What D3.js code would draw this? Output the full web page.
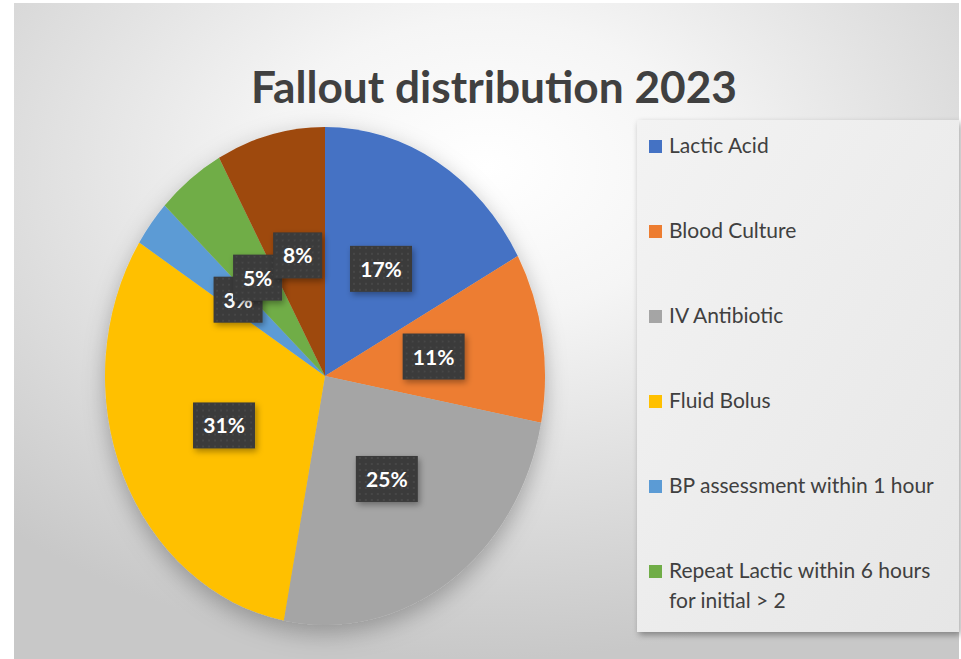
<!DOCTYPE html>
<html>
<head>
<meta charset="utf-8">
<script src="https://cdn.jsdelivr.net/npm/d3@7"></script>
<style>
  body { margin: 0; background: #fff; }
  svg { display: block; }
</style>
</head>
<body>
<div id="chart"></div>
<script>
// chart data
const categories = ["Lactic Acid", "Blood Culture", "IV Antibiotic", "Fluid Bolus",
                    "BP assessment within 1 hour", "Repeat Lactic within 6 hours\nfor initial > 2", "Other"];
const values = [17, 11, 25, 31, 3, 5, 8];
const colors = ["#4472c4", "#ed7d31", "#a5a5a5", "#ffc000", "#5b9bd5", "#70ad47", "#9e480e"];
const title = "Fallout distribution 2023";

const width = 961, height = 659;
const cx = 325, cy = 376, ry = 249, rx = 220;
const sx = rx / ry;

const svg = d3.select("#chart").append("svg")
              .attr("width", width)
              .attr("height", height);

const defs = svg.append("defs");

// background gradient (excel style radial)
const bg = defs.append("radialGradient")
               .attr("id", "bg")
               .attr("cx", "50%").attr("cy", "25%").attr("r", "75%");
bg.append("stop").attr("offset", "0%").attr("stop-color", "#ffffff");
bg.append("stop").attr("offset", "30%").attr("stop-color", "#f5f5f5");
bg.append("stop").attr("offset", "100%").attr("stop-color", "#c8c8c8");

const shadow = defs.append("filter").attr("id", "pieShadow")
                   .attr("x", "-20%").attr("y", "-20%").attr("width", "140%").attr("height", "140%");
shadow.append("feDropShadow").attr("dx", 0).attr("dy", 8).attr("stdDeviation", 12)
      .attr("flood-color", "#000").attr("flood-opacity", 0.28);

const boxShadow = defs.append("filter").attr("id", "boxShadow")
                      .attr("x", "-30%").attr("y", "-30%").attr("width", "160%").attr("height", "160%");
boxShadow.append("feDropShadow").attr("dx", 2).attr("dy", 3).attr("stdDeviation", 3)
         .attr("flood-color", "#000").attr("flood-opacity", 0.35);

const dots = defs.append("pattern").attr("id", "dots")
                 .attr("width", 6).attr("height", 6).attr("patternUnits", "userSpaceOnUse");
dots.append("rect").attr("width", 6).attr("height", 6).attr("fill", "#3a3a3a");
dots.append("circle").attr("cx", 3).attr("cy", 3).attr("r", 0.8).attr("fill", "#555");

svg.append("rect")
   .attr("x", 14).attr("y", 3)
   .attr("width", 945).attr("height", height - 3)
   .attr("fill", "url(#bg)");

// title
svg.append("text")
   .attr("x", 494).attr("y", 103)
   .attr("text-anchor", "middle")
   .attr("font-family", "Lato, sans-serif")
   .attr("font-weight", "bold")
   .attr("font-size", 44)
   .attr("fill", "#404040")
   .attr("textLength", 486)
   .attr("lengthAdjust", "spacingAndGlyphs")
   .text(title);

// pie
const pie = d3.pie().sort(null).value(d => d)(values);
const arc = d3.arc().innerRadius(0).outerRadius(ry);

svg.append("g")
   .attr("transform", `translate(${cx},${cy}) scale(${sx},1)`)
   .attr("filter", "url(#pieShadow)")
   .selectAll("path")
   .data(pie)
   .enter()
   .append("path")
   .attr("d", arc)
   .attr("fill", (d, i) => colors[i]);

// data labels
const labels = svg.append("g").attr("transform", `translate(${cx},${cy})`)
                  .selectAll("g")
                  .data(pie)
                  .enter()
                  .append("g")
                  .attr("transform", d => {
                      const c = arc.centroid(d);
                      return `translate(${c[0] * sx},${c[1]})`;
                  });

labels.each(function(d) {
    const g = d3.select(this);
    const txt = d.value + "%";
    const w = txt.length === 3 ? 62 : 49;
    g.append("rect")
     .attr("x", -w / 2).attr("y", -23)
     .attr("width", w).attr("height", 46)
     .attr("fill", "url(#dots)")
     .attr("filter", "url(#boxShadow)");
    g.append("text")
     .attr("text-anchor", "middle")
     .attr("y", 8)
     .attr("font-family", "Lato, sans-serif")
     .attr("font-weight", "bold")
     .attr("font-size", 21)
     .attr("fill", "#fff")
     .text(txt);
});

// legend (box is too short for the last entry, as in the original)
const legX = 637, legY = 120, legW = 322, legH = 512, step = 85;

const lg = defs.append("linearGradient").attr("id", "legBg")
               .attr("x1", "0%").attr("y1", "0%").attr("x2", "100%").attr("y2", "100%");
lg.append("stop").attr("offset", "0%").attr("stop-color", "#f3f3f3");
lg.append("stop").attr("offset", "100%").attr("stop-color", "#e6e6e6");

svg.append("rect")
   .attr("x", legX).attr("y", legY)
   .attr("width", legW).attr("height", legH)
   .attr("fill", "url(#legBg)")
   .attr("filter", "url(#boxShadow)");

const shown = categories.filter((d, i) => legY + 26 + i * step < legY + legH);

const legend = svg.append("g")
                  .selectAll("g")
                  .data(shown)
                  .enter()
                  .append("g")
                  .attr("transform", (d, i) => `translate(649, ${legY + 26 + i * step})`);

legend.append("rect")
      .attr("x", 0).attr("y", -6)
      .attr("width", 13).attr("height", 13)
      .attr("fill", (d, i) => colors[i]);

legend.append("text")
      .attr("font-family", "Lato, sans-serif")
      .attr("font-size", 21)
      .attr("fill", "#404040")
      .selectAll("tspan")
      .data(d => d.split("\n"))
      .enter()
      .append("tspan")
      .attr("x", 20)
      .attr("y", (d, i) => 7 + i * 30)
      .text(d => d);
</script>
</body>
</html>
